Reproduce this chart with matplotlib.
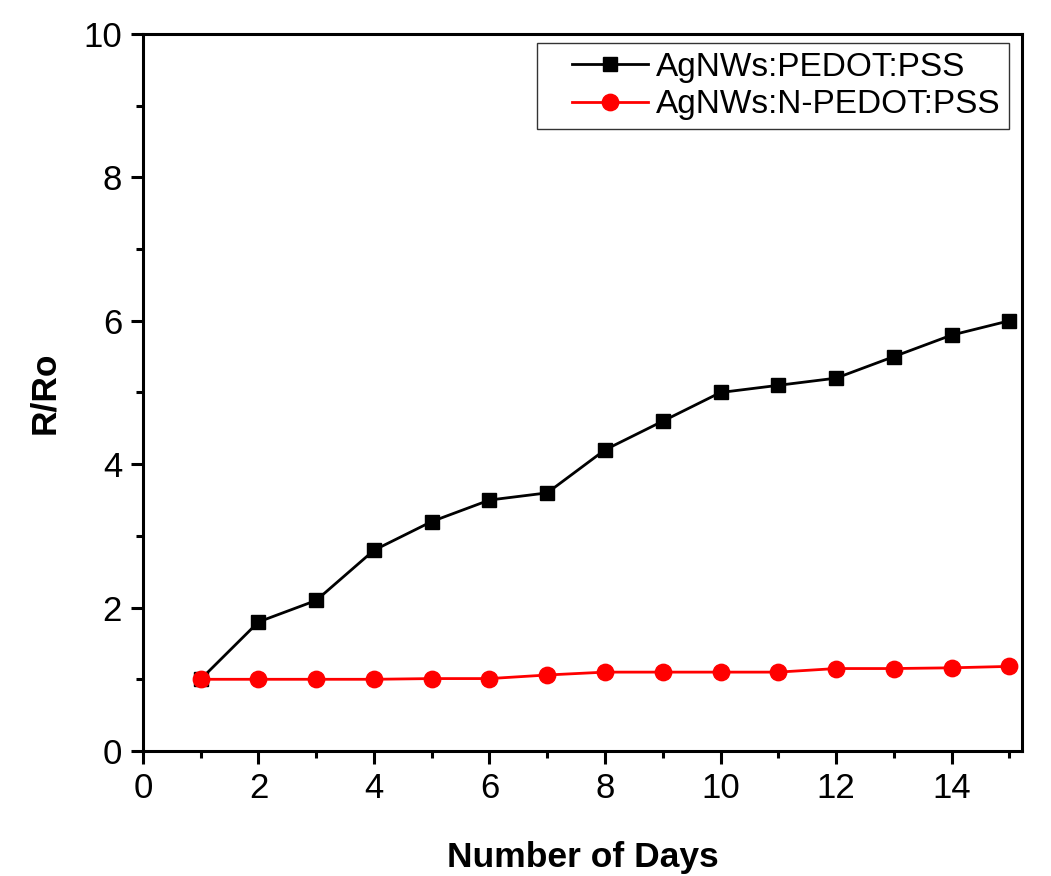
import matplotlib
matplotlib.use("Agg")
import matplotlib.pyplot as plt
from matplotlib.ticker import MultipleLocator
from matplotlib.legend_handler import HandlerLine2D

plt.rcParams['font.family'] = ['Liberation Sans', 'DejaVu Sans']

days = list(range(1, 16))
pedot = [1.0, 1.8, 2.1, 2.8, 3.2, 3.5, 3.6, 4.2, 4.6, 5.0, 5.1, 5.2, 5.5, 5.8, 6.0]
n_pedot = [1.0, 1.0, 1.0, 1.0, 1.01, 1.01, 1.06, 1.1, 1.1, 1.1, 1.1, 1.15, 1.15, 1.16, 1.18]
labels = ["AgNWs:PEDOT:PSS", "AgNWs:N-PEDOT:PSS"]

fig = plt.figure(figsize=(10.51, 8.76), dpi=100)
ax = fig.add_axes([0.136, 0.1427, 0.9724 - 0.136, 0.9612 - 0.1427])

l1, = ax.plot(days, pedot, color='black', marker='s', markersize=10.5, linewidth=2.0,
              label=labels[0], zorder=3)
l2, = ax.plot(days, n_pedot, color='#ff0000', marker='o', markersize=11.8, linewidth=2.0,
              label=labels[1], zorder=4)

ax.set_xlim(0, 15.22)
ax.set_ylim(0, 10)
ax.xaxis.set_major_locator(MultipleLocator(2))
ax.xaxis.set_minor_locator(MultipleLocator(1))
ax.yaxis.set_major_locator(MultipleLocator(2))
ax.yaxis.set_minor_locator(MultipleLocator(1))

for s in ax.spines.values():
    s.set_linewidth(2.2)
ax.tick_params(which='major', direction='out', length=9, width=2.2, labelsize=25, pad=6)
ax.tick_params(which='minor', direction='out', length=5, width=2.2)
ax.tick_params(top=False, right=False, which='both')

ax.set_xlabel("Number of Days", fontsize=25.5, fontweight='bold', labelpad=26)
ax.set_ylabel("R/Ro", fontsize=25.5, fontweight='bold', labelpad=16)

hm = {l1: HandlerLine2D(xpad=0.8), l2: HandlerLine2D(xpad=0.8)}
leg = ax.legend(loc='upper right', bbox_to_anchor=(0.985, 0.987), fontsize=24,
                frameon=True, fancybox=False, edgecolor='#333333', framealpha=1,
                handlelength=3.07, borderpad=0.25, labelspacing=0.2, handletextpad=0.25,
                borderaxespad=0.0, handler_map=hm)
leg.get_frame().set_linewidth(1.0)

fig.savefig("out.png", dpi=100, facecolor='white')
